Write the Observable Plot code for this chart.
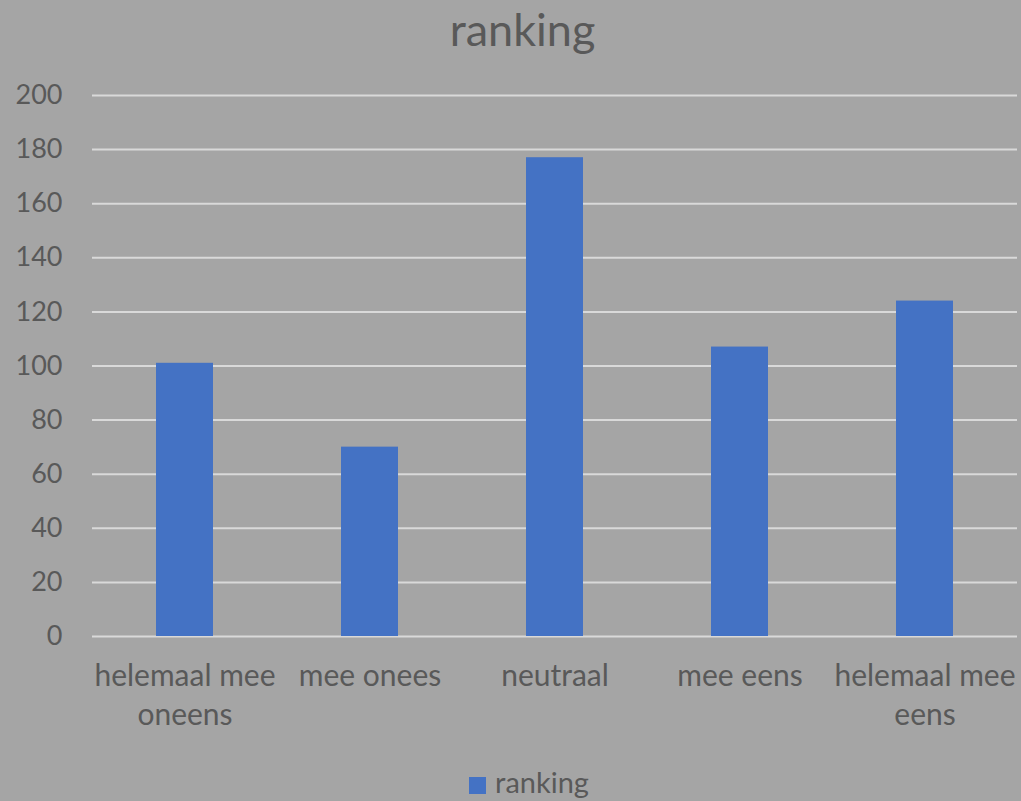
<!DOCTYPE html>
<html>
<head>
<meta charset="utf-8">
<script src="https://cdn.jsdelivr.net/npm/d3@7"></script>
<script src="https://cdn.jsdelivr.net/npm/@observablehq/plot@0.6"></script>
<style>
  html, body { margin: 0; padding: 0; background: #a5a5a5; }
  #wrap { width: 1021px; height: 801px; background: #a5a5a5; font-family: Lato, "Open Sans", sans-serif; color: #595959; position: relative; overflow: hidden; }
  #title { height: 60px; line-height: 58px; text-align: center; font-size: 45px; padding-left: 24px; box-sizing: border-box; }
  #legend { position: absolute; top: 764px; left: 0; width: 1021px; text-align: center; font-size: 29px; padding-left: 37px; box-sizing: border-box; }
  #legend .sw { display: inline-block; width: 17px; height: 17px; background: #4472C4; margin-right: 9px; vertical-align: -1px; }
  svg { display: block; }
</style>
</head>
<body>
<div id="wrap">
  <div id="title">ranking</div>
  <div id="chart"></div>
  <div id="legend"><span class="sw"></span>ranking</div>
</div>
<script>
const categories = ["helemaal mee oneens", "mee onees", "neutraal", "mee eens", "helemaal mee eens"];
const tickLabels = ["helemaal mee\noneens", "mee onees", "neutraal", "mee eens", "helemaal mee\neens"];
const values = [101, 70, 177, 107, 124];
const yTicks = [0, 20, 40, 60, 80, 100, 120, 140, 160, 180, 200];

const data = categories.map((c, i) => ({category: c, value: values[i]}));
const labelOf = new Map(categories.map((c, i) => [c, tickLabels[i]]));

const chart = Plot.plot({
  width: 1021,
  height: 700,
  marginTop: 35,
  marginBottom: 124,
  marginLeft: 92,
  marginRight: 4,
  style: {background: "transparent", fontFamily: "Lato, 'Open Sans', sans-serif", color: "#595959", overflow: "visible"},
  x: {domain: categories, paddingInner: 0.69, paddingOuter: 0.345, label: null},
  y: {domain: [0, 200], label: null},
  marks: [
    Plot.gridY(yTicks, {stroke: "#d9d9d9", strokeOpacity: 1, strokeWidth: 2}),
    Plot.barY(data, {x: "category", y: "value", fill: "#4472C4"}),
    Plot.axisY(yTicks, {tickSize: 0, tickPadding: 30, fontSize: 27, fill: "#595959", label: null}),
    Plot.axisX({tickSize: 0, tickPadding: 22, fontSize: 30, fill: "#595959", lineHeight: 1.3, tickFormat: d => labelOf.get(d), label: null})
  ]
});
document.getElementById("chart").appendChild(chart);
</script>
</body>
</html>
